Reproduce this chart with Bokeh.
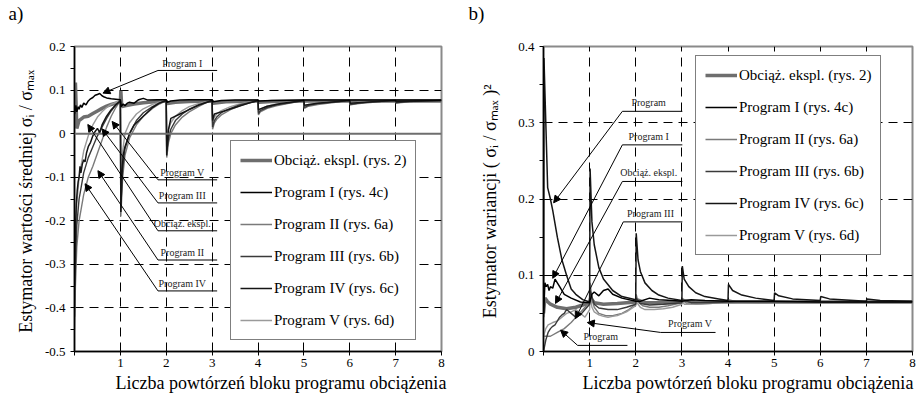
from bokeh.plotting import figure
from bokeh.layouts import row
from bokeh.models import (FixedTicker, Span, Title, Legend, LegendItem, Arrow, NormalHead)
from bokeh.embed import file_html
from bokeh.resources import INLINE
from bokeh.core.properties import value

FONT = "Liberation Serif"

# ---------------- data: panel a (mean estimator) ----------------
a_obc = [(0, 0.02), (0.02, 0.117), (0.05, 0.012), (0.1, 0.03), (0.2, 0.038), (0.3, 0.04), (0.4, 0.046),
         (0.5, 0.052), (0.6, 0.058), (0.7, 0.063), (0.8, 0.067), (0.9, 0.07), (1.0, 0.073), (1.01, 0.098),
         (1.03, 0.062), (1.1, 0.064), (1.3, 0.068), (1.5, 0.071), (1.8, 0.074), (2.0, 0.075), (2.02, 0.069),
         (2.2, 0.072), (2.5, 0.074), (3.0, 0.075), (3.02, 0.07), (3.3, 0.073), (4.0, 0.075), (4.02, 0.072),
         (4.3, 0.074), (5.0, 0.075), (6.0, 0.075), (7.0, 0.075), (8.0, 0.075)]
a_p1 = [(0, 0.045), (0.03, 0.065), (0.05, 0.05), (0.08, 0.062), (0.1, 0.056), (0.13, 0.066), (0.16, 0.06),
        (0.2, 0.07), (0.25, 0.066), (0.3, 0.075), (0.35, 0.08), (0.4, 0.083), (0.45, 0.088), (0.5, 0.09),
        (0.55, 0.092), (0.6, 0.087), (0.65, 0.084), (0.7, 0.082), (0.8, 0.08), (0.9, 0.079), (1.0, 0.078),
        (1.02, 0.062), (1.06, 0.068), (1.1, 0.064), (1.15, 0.07), (1.2, 0.072), (1.3, 0.07), (1.4, 0.078),
        (1.5, 0.081), (1.6, 0.077), (1.8, 0.078), (2.0, 0.078), (2.02, 0.072), (2.1, 0.075), (2.3, 0.077),
        (2.5, 0.078), (3.0, 0.078), (3.02, 0.073), (3.2, 0.076), (3.5, 0.077), (4.0, 0.077), (4.02, 0.075),
        (4.3, 0.076), (5.0, 0.077), (6.0, 0.077), (7.0, 0.077), (8.0, 0.077)]
a_p2 = [(0, -0.45), (0.02, -0.35), (0.05, -0.26), (0.1, -0.2), (0.2, -0.14), (0.3, -0.1), (0.4, -0.075),
        (0.5, -0.045), (0.6, -0.015), (0.7, 0.015), (0.8, 0.04), (0.9, 0.06), (1.0, 0.076),
        (1.01, -0.19), (1.05, -0.1), (1.1, -0.05), (1.2, -0.01), (1.35, 0.02), (1.5, 0.04), (1.7, 0.058),
        (1.85, 0.068), (2.0, 0.076),
        (2.01, -0.055), (2.05, -0.02), (2.1, 0.0), (2.2, 0.02), (2.35, 0.038), (2.5, 0.05), (2.7, 0.062),
        (2.85, 0.07), (3.0, 0.076),
        (3.01, 0.01), (3.05, 0.025), (3.1, 0.033), (3.2, 0.043), (3.4, 0.055), (3.6, 0.064), (3.8, 0.07),
        (4.0, 0.076),
        (4.01, 0.043), (4.05, 0.05), (4.2, 0.058), (4.4, 0.064), (4.7, 0.07), (5.0, 0.076),
        (5.01, 0.058), (5.1, 0.063), (5.3, 0.067), (5.6, 0.071), (6.0, 0.076),
        (6.01, 0.066), (6.2, 0.069), (6.5, 0.072), (7.0, 0.076),
        (7.01, 0.07), (7.3, 0.073), (8.0, 0.076)]
a_p3 = [(0, -0.42), (0.02, -0.3), (0.05, -0.21), (0.1, -0.15), (0.2, -0.09), (0.3, -0.055), (0.4, -0.03),
        (0.5, -0.005), (0.6, 0.015), (0.7, 0.035), (0.8, 0.052), (0.9, 0.066), (1.0, 0.076),
        (1.01, -0.17), (1.05, -0.08), (1.1, -0.035), (1.2, 0.0), (1.35, 0.03), (1.5, 0.048), (1.7, 0.062),
        (1.85, 0.07), (2.0, 0.076),
        (2.01, -0.04), (2.05, -0.01), (2.1, 0.01), (2.2, 0.03), (2.35, 0.045), (2.5, 0.056), (2.7, 0.066),
        (2.85, 0.071), (3.0, 0.076),
        (3.01, 0.015), (3.05, 0.03), (3.1, 0.038), (3.2, 0.048), (3.4, 0.058), (3.6, 0.066), (3.8, 0.071),
        (4.0, 0.076),
        (4.01, 0.046), (4.05, 0.053), (4.2, 0.06), (4.4, 0.066), (4.7, 0.071), (5.0, 0.076),
        (5.01, 0.06), (5.1, 0.065), (5.3, 0.069), (5.6, 0.072), (6.0, 0.076),
        (6.01, 0.067), (6.2, 0.07), (6.5, 0.073), (7.0, 0.076),
        (7.01, 0.071), (7.3, 0.074), (8.0, 0.076)]
a_p4 = [(0, -0.35), (0.02, -0.22), (0.04, -0.16), (0.06, -0.13), (0.08, -0.11), (0.1, -0.1), (0.12, -0.075),
        (0.14, -0.09), (0.17, -0.07), (0.2, -0.06), (0.23, -0.065), (0.26, -0.045), (0.3, -0.03),
        (0.35, -0.02), (0.4, -0.005), (0.45, 0.005), (0.5, 0.012), (0.55, 0.002), (0.6, 0.02), (0.7, 0.04),
        (0.8, 0.055), (0.9, 0.066), (1.0, 0.075),
        (1.01, -0.18), (1.03, -0.1), (1.06, -0.05), (1.1, -0.03), (1.2, 0.0), (1.3, 0.02), (1.5, 0.04),
        (1.7, 0.06), (1.85, 0.07), (2.0, 0.076),
        (2.01, -0.05), (2.05, 0.01), (2.1, 0.035), (2.3, 0.045), (2.5, 0.055), (2.7, 0.065), (3.0, 0.076),
        (3.01, 0.03), (3.05, 0.045), (3.2, 0.05), (3.5, 0.06), (3.8, 0.07), (4.0, 0.076),
        (4.01, 0.055), (4.2, 0.063), (4.5, 0.069), (5.0, 0.076),
        (5.01, 0.065), (5.3, 0.07), (6.0, 0.076),
        (6.01, 0.07), (6.5, 0.073), (7.0, 0.076),
        (7.01, 0.073), (8.0, 0.076)]
a_p5 = [(0, -0.4), (0.02, -0.25), (0.05, -0.16), (0.1, -0.1), (0.2, -0.04), (0.3, -0.005), (0.4, 0.02),
        (0.5, 0.038), (0.6, 0.05), (0.7, 0.06), (0.8, 0.067), (0.9, 0.072), (1.0, 0.076),
        (1.01, -0.12), (1.05, -0.04), (1.1, 0.0), (1.2, 0.025), (1.35, 0.045), (1.5, 0.057), (1.7, 0.067),
        (1.85, 0.072), (2.0, 0.076),
        (2.01, -0.02), (2.05, 0.01), (2.1, 0.025), (2.2, 0.04), (2.35, 0.053), (2.5, 0.062), (2.7, 0.069),
        (2.85, 0.073), (3.0, 0.076),
        (3.01, 0.025), (3.05, 0.038), (3.1, 0.045), (3.2, 0.053), (3.4, 0.062), (3.6, 0.068), (3.8, 0.072),
        (4.0, 0.076),
        (4.01, 0.05), (4.05, 0.056), (4.2, 0.063), (4.4, 0.068), (4.7, 0.072), (5.0, 0.076),
        (5.01, 0.063), (5.1, 0.067), (5.3, 0.07), (5.6, 0.073), (6.0, 0.076),
        (6.01, 0.069), (6.2, 0.072), (6.5, 0.074), (7.0, 0.076),
        (7.01, 0.072), (7.3, 0.074), (8.0, 0.076)]

# ---------------- data: panel b (variance estimator) ----------------
b_obc = [(0, 0.05), (0.03, 0.07), (0.08, 0.066), (0.15, 0.062), (0.3, 0.058), (0.5, 0.056), (0.7, 0.058),
         (0.9, 0.062), (1.0, 0.064), (1.02, 0.07), (1.1, 0.064), (1.3, 0.062), (1.6, 0.063), (2.0, 0.065),
         (2.02, 0.068), (2.2, 0.064), (2.6, 0.064), (3.0, 0.065), (3.02, 0.067), (3.3, 0.065), (4.0, 0.065),
         (5.0, 0.065), (6.0, 0.065), (7.0, 0.065), (8.0, 0.065)]
b_p1 = [(0, 0.045), (0.03, 0.09), (0.06, 0.085), (0.09, 0.088), (0.12, 0.08), (0.15, 0.085), (0.2, 0.083),
        (0.25, 0.095), (0.3, 0.09), (0.35, 0.085), (0.45, 0.075), (0.6, 0.07), (0.8, 0.065), (1.0, 0.064),
        (1.05, 0.075), (1.1, 0.078), (1.2, 0.073), (1.3, 0.08), (1.4, 0.082), (1.5, 0.075), (1.7, 0.07),
        (2.0, 0.066), (2.1, 0.066), (2.3, 0.07), (2.5, 0.068), (2.8, 0.067), (3.0, 0.066), (3.2, 0.068),
        (3.5, 0.067), (4.0, 0.066), (5.0, 0.066), (6.0, 0.065), (7.0, 0.065), (8.0, 0.065)]
b_p2 = [(0, 0.02), (0.05, 0.02), (0.15, 0.02), (0.3, 0.025), (0.45, 0.03), (0.6, 0.038), (0.75, 0.048),
        (0.9, 0.058), (1.0, 0.065), (1.01, 0.09), (1.05, 0.07), (1.1, 0.058), (1.2, 0.05), (1.35, 0.047),
        (1.5, 0.047), (1.7, 0.05), (1.85, 0.055), (2.0, 0.062), (2.01, 0.075), (2.05, 0.065), (2.15, 0.06),
        (2.3, 0.058), (2.5, 0.058), (2.7, 0.06), (3.0, 0.064), (3.01, 0.07), (3.1, 0.063), (3.3, 0.062),
        (3.6, 0.063), (4.0, 0.065), (4.01, 0.068), (4.2, 0.065), (4.6, 0.064), (5.0, 0.065), (6.0, 0.065),
        (7.0, 0.065), (8.0, 0.065)]
b_p3 = [(0, 0.0), (0.05, 0.015), (0.1, 0.025), (0.15, 0.03), (0.2, 0.033), (0.25, 0.035), (0.3, 0.04),
        (0.35, 0.045), (0.4, 0.048), (0.45, 0.05), (0.5, 0.055), (0.6, 0.05), (0.7, 0.045), (0.8, 0.048),
        (0.9, 0.055), (1.0, 0.062), (1.01, 0.08), (1.1, 0.062), (1.2, 0.057), (1.4, 0.055), (1.6, 0.055),
        (1.8, 0.058), (2.0, 0.062), (2.01, 0.07), (2.1, 0.063), (2.3, 0.061), (2.6, 0.062), (3.0, 0.064),
        (3.01, 0.068), (3.2, 0.064), (3.6, 0.064), (4.0, 0.065), (5.0, 0.065), (6.0, 0.065), (7.0, 0.065),
        (8.0, 0.065)]
b_p4 = [(0, 0.05), (0.01, 0.385), (0.05, 0.3), (0.09, 0.215), (0.15, 0.2), (0.2, 0.185), (0.3, 0.15),
        (0.4, 0.12), (0.5, 0.1), (0.6, 0.082), (0.7, 0.075), (0.85, 0.068), (1.0, 0.065),
        (1.01, 0.24), (1.05, 0.17), (1.1, 0.14), (1.2, 0.11), (1.3, 0.095), (1.5, 0.08), (1.7, 0.072),
        (2.0, 0.068),
        (2.01, 0.155), (2.05, 0.12), (2.1, 0.105), (2.2, 0.09), (2.35, 0.08), (2.5, 0.074), (2.7, 0.07),
        (3.0, 0.067),
        (3.01, 0.112), (3.05, 0.095), (3.15, 0.085), (3.3, 0.077), (3.5, 0.072), (3.8, 0.069), (4.0, 0.067),
        (4.01, 0.088), (4.1, 0.08), (4.3, 0.074), (4.6, 0.07), (5.0, 0.067),
        (5.01, 0.077), (5.1, 0.073), (5.4, 0.069), (6.0, 0.067),
        (6.01, 0.072), (6.2, 0.069), (7.0, 0.066),
        (7.01, 0.069), (7.3, 0.067), (8.0, 0.066)]
b_p5 = [(0, 0.02), (0.05, 0.03), (0.1, 0.035), (0.2, 0.038), (0.3, 0.04), (0.4, 0.045), (0.5, 0.05),
        (0.6, 0.052), (0.7, 0.055), (0.8, 0.05), (0.9, 0.045), (1.0, 0.055), (1.01, 0.075), (1.05, 0.058),
        (1.1, 0.052), (1.2, 0.048), (1.3, 0.046), (1.4, 0.045), (1.5, 0.046), (1.6, 0.047), (1.8, 0.052),
        (2.0, 0.06), (2.01, 0.07), (2.05, 0.062), (2.1, 0.058), (2.2, 0.055), (2.4, 0.055), (2.6, 0.056),
        (2.8, 0.058), (3.0, 0.062), (3.01, 0.066), (3.05, 0.062), (3.2, 0.062), (3.5, 0.063), (4.0, 0.064),
        (4.01, 0.066), (4.2, 0.064), (4.6, 0.064), (5.0, 0.065), (6.0, 0.065), (7.0, 0.065), (8.0, 0.065)]

series_names = ["Obciąż. ekspl. (rys. 2)", "Program I (rys. 4c)", "Program II (rys. 6a)",
                "Program III (rys. 6b)", "Program IV (rys. 6c)", "Program V (rys. 6d)"]
series_colors = ["#6e6e6e", "#000000", "#7a7a7a", "#3a3a3a", "#151515", "#9a9a9a"]
series_widths = [3.5, 1.5, 1.4, 1.4, 1.5, 1.4]

# axes / ticks
a_y_ticks = [-0.5, -0.4, -0.3, -0.2, -0.1, 0.0, 0.1, 0.2]
a_y_labels = ["-0.5", "-0.4", "-0.3", "-0.2", "-0.1", "0", "0.1", "0.2"]
a_y_minor = [-0.45, -0.35, -0.25, -0.15, -0.05, 0.05, 0.15]
a_y_grid = [-0.4, -0.3, -0.2, -0.1, 0.1]
b_y_ticks = [0.0, 0.1, 0.2, 0.3, 0.4]
b_y_labels = ["0", "0.1", "0.2", "0.3", "0.4"]
b_y_minor = [0.05, 0.15, 0.25, 0.35]
b_y_grid = [0.1, 0.2, 0.3]
x_ticks = [0, 1, 2, 3, 4, 5, 6, 7, 8]
x_labels = ["", "1", "2", "3", "4", "5", "6", "7", "8"]
x_grid = [1, 2, 3, 4, 5, 6, 7]
x_title = "Liczba powtórzeń bloku programu obciążenia"

# annotations: (text, text_x, underline_x0, underline_x1, underline_y, tip_x, tip_y)
a_notes = [("Program I", 2.35, 1.82, 3.11, 0.145, 0.62, 0.093),
           ("Program V", 2.35, 1.82, 3.11, -0.106, 0.82, 0.028),
           ("Program III", 2.35, 1.82, 3.11, -0.159, 0.60, 0.011),
           ("Obciąż. ekspl.", 2.35, 1.82, 3.11, -0.223, 0.29, 0.021),
           ("Program II", 2.35, 1.82, 3.11, -0.290, 0.51, -0.085),
           ("Program IV", 2.35, 1.82, 3.11, -0.361, 0.23, -0.115)]
b_notes = [("Program", 2.28, 1.71, 3.01, 0.315, 0.22, 0.195),
           ("Program I", 2.28, 1.71, 3.01, 0.271, 0.20, 0.096),
           ("Obciąż. ekspl.", 2.28, 1.71, 3.01, 0.223, 0.26, 0.063),
           ("Program III", 2.32, 1.73, 3.01, 0.170, 0.69, 0.043),
           ("Program V", 3.18, 2.54, 3.73, 0.025, 0.95, 0.038),
           ("Program", 1.24, 0.74, 1.82, 0.008, 0.37, 0.028)]


def make_panel(width, left, right, yr, series, yticks, ylabels, yminor, ygrid, ylabel, notes,
               legend_loc, tag, xlabel_offset, note_dy, ylabel_standoff):
    p = figure(width=width, height=395, x_range=(0, 8), y_range=yr, output_backend="svg",
               toolbar_location=None, min_border_left=left, min_border_right=right,
               min_border_top=46, min_border_bottom=44)
    p.background_fill_color = "white"
    p.border_fill_color = "white"
    p.outline_line_color = "#8a8a8a"
    p.outline_line_width = 2

    p.xaxis.ticker = FixedTicker(ticks=x_ticks, minor_ticks=[])
    p.xaxis.major_label_overrides = {t: l for t, l in zip(x_ticks, x_labels)}
    p.yaxis.ticker = FixedTicker(ticks=yticks, minor_ticks=yminor)
    p.yaxis.major_label_overrides = {t: l for t, l in zip(yticks, ylabels)}
    for ax in (p.xaxis[0], p.yaxis[0]):
        ax.axis_line_color = "black"
        ax.axis_line_width = 1.5
        ax.major_tick_line_color = "black"
        ax.minor_tick_line_color = "black"
        ax.major_tick_in = 0
        ax.major_tick_out = 4
        ax.minor_tick_in = 0
        ax.minor_tick_out = 4
        ax.major_label_text_font = FONT
        ax.major_label_text_font_size = "13px"
        ax.major_label_text_color = "black"
    p.xaxis.major_label_standoff = 3
    p.yaxis.major_label_standoff = 5
    p.yaxis.axis_label = ylabel
    p.yaxis.axis_label_text_font = FONT
    p.yaxis.axis_label_text_font_size = "18px"
    p.yaxis.axis_label_text_font_style = "normal"
    p.yaxis.axis_label_text_color = "black"
    p.yaxis.axis_label_standoff = ylabel_standoff

    p.xgrid.ticker = FixedTicker(ticks=x_grid)
    p.ygrid.ticker = FixedTicker(ticks=ygrid)
    for g in (p.xgrid[0], p.ygrid[0]):
        g.grid_line_color = "black"
        g.grid_line_dash = "9 6"
        g.grid_line_width = 1

    if yr[0] < 0:
        p.add_layout(Span(location=0, dimension="width", line_color="#6e6e6e", line_width=2))

    items = []
    order = [0, 2, 5, 3, 4, 1]
    rends = {}
    for i in order:
        xs, ys = zip(*series[i])
        rends[i] = p.line(list(xs), list(ys), line_color=series_colors[i], line_width=series_widths[i])
    for i in range(6):
        items.append(LegendItem(label=series_names[i], renderers=[rends[i]]))

    for (txt, tx, ux0, ux1, uy, tipx, tipy) in notes:
        p.segment(x0=[ux0], y0=[uy], x1=[ux1], y1=[uy], line_color="black", line_width=1)
        p.add_layout(Arrow(end=NormalHead(size=7, fill_color="black", line_color="black", line_width=1),
                           x_start=ux0, y_start=uy, x_end=tipx, y_end=tipy,
                           line_color="black", line_width=1))
        p.text(x=[tx], y=[uy + note_dy], text=[txt], text_font=value(FONT), text_font_size="10px",
               text_align="center", text_baseline="bottom", text_color="#222222")

    leg = Legend(items=items, location=legend_loc, orientation="vertical")
    leg.label_text_font = FONT
    leg.label_text_font_size = "15px"
    leg.label_text_color = "black"
    leg.border_line_color = "black"
    leg.border_line_width = 1
    leg.background_fill_color = "white"
    leg.background_fill_alpha = 1
    leg.padding = 9
    leg.spacing = 12
    leg.label_height = 20
    leg.glyph_height = 20
    leg.glyph_width = 32
    leg.label_standoff = 2
    leg.margin = 0
    p.add_layout(leg)

    # spacer between the frame and the panel tag, then the tag itself
    p.add_layout(Title(text=" ", align="left", standoff=19, text_font=FONT, text_font_size="2px",
                       text_font_style="normal", text_color="white"), "above")
    p.add_layout(Title(text=tag, align="left", offset=-left + 8, standoff=0, text_font=FONT,
                       text_font_size="19px", text_font_style="normal", text_color="black"), "above")
    p.add_layout(Title(text=x_title, align="left", offset=xlabel_offset, standoff=2, text_font=FONT,
                       text_font_size="18px", text_font_style="normal", text_color="black"), "below")
    return p


pa = make_panel(460, 74, 19, (-0.5, 0.2), [a_obc, a_p1, a_p2, a_p3, a_p4, a_p5],
                a_y_ticks, a_y_labels, a_y_minor, a_y_grid,
                "Estymator wartości średniej  σᵢ / σₘₐₓ", a_notes, (156, 11), "a)", 41, 0.004, 6)
pb = make_panel(459, 83, 7, (0, 0.4), [b_obc, b_p1, b_p2, b_p3, b_p4, b_p5],
                b_y_ticks, b_y_labels, b_y_minor, b_y_grid,
                "Estymator wariancji  ( σᵢ / σₘₐₓ )²", b_notes, (152, 96), "b)", 39, 0.004, 15)

layout = row(pa, pb)
open("out.html", "w").write(file_html(layout, INLINE))
